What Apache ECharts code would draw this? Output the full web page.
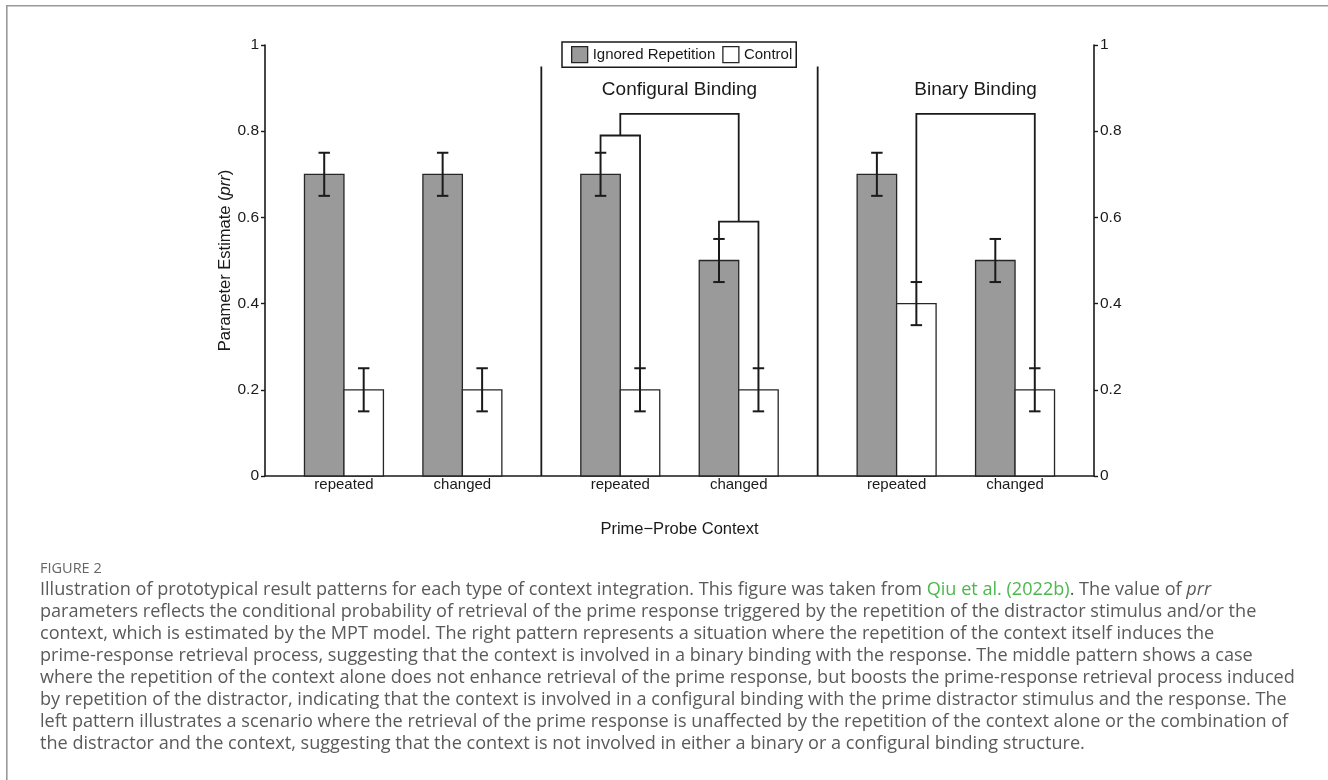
<!DOCTYPE html>
<html><head><meta charset="utf-8">
<script src="https://cdn.jsdelivr.net/npm/echarts@6/dist/echarts.min.js"></script>
<style>html,body{margin:0;padding:0;background:#fff}#c{width:1328px;height:780px}</style>
</head><body><div id="c"></div><script>
// ---------- data ----------
const panelTitles = ['', 'Configural Binding', 'Binary Binding'];
const contexts = ['repeated', 'changed'];
const seriesNames = ['Ignored Repetition', 'Control'];
const ignoredValues = [0.7, 0.7, 0.7, 0.5, 0.7, 0.5];
const ignoredErrors = [0.05, 0.05, 0.05, 0.05, 0.05, 0.05];
const controlValues = [0.2, 0.2, 0.2, 0.2, 0.4, 0.2];
const controlErrors = [0.05, 0.05, 0.05, 0.05, 0.05, 0.05];
const yTickLabels = ['0', '0.2', '0.4', '0.6', '0.8', '1'];
const xTitle = 'Prime\u2212Probe Context';
// comparison brackets: ends refer to bars (group index, series) or other brackets
const brackets = [
  { id: 'a', left: { g: 2, s: 0 }, right: { g: 2, s: 1 }, h: 0.79 },
  { id: 'b', left: { g: 3, s: 0 }, right: { g: 3, s: 1 }, h: 0.59 },
  { id: 'c', left: { b: 'a' }, right: { b: 'b' }, h: 0.84 },
  { id: 'd', left: { g: 4, s: 1 }, right: { g: 5, s: 1 }, h: 0.84 }
];
const separatorTop = 0.95;
const captionLabel = 'FIGURE 2';
const captionLines = [
  ['Illustration of prototypical result patterns for each type of context integration. This figure was taken from ', '{g|Qiu et al. (2022b)}', '. The value of ', '{i|prr}'],
  ['parameters reflects the conditional probability of retrieval of the prime response triggered by the repetition of the distractor stimulus and/or the'],
  ['context, which is estimated by the MPT model. The right pattern represents a situation where the repetition of the context itself induces the'],
  ['prime-response retrieval process, suggesting that the context is involved in a binary binding with the response. The middle pattern shows a case'],
  ['where the repetition of the context alone does not enhance retrieval of the prime response, but boosts the prime-response retrieval process induced'],
  ['by repetition of the distractor, indicating that the context is involved in a configural binding with the prime distractor stimulus and the response. The'],
  ['left pattern illustrates a scenario where the retrieval of the prime response is unaffected by the repetition of the context alone or the combination of'],
  ['the distractor and the context, suggesting that the context is not involved in either a binary or a configural binding structure.']
];

// ---------- layout helpers ----------
const PANEL = 7, XMAX = 21;
const groupX = k => PANEL * Math.floor(k / 2) + 2 + 3 * (k % 2);
const barX = (k, s) => groupX(k) + (s === 0 ? -0.5 : 0.5);
const vals = [ignoredValues, controlValues], errs = [ignoredErrors, controlErrors];
const bracketGeom = {};
function endPoint(e) {
  if (e.b !== undefined) { const g = bracketGeom[e.b]; return [(g.x1 + g.x2) / 2, g.h]; }
  return [barX(e.g, e.s), vals[e.s][e.g] + errs[e.s][e.g]];
}
brackets.forEach(b => {
  const l = endPoint(b.left), r = endPoint(b.right);
  bracketGeom[b.id] = { x1: l[0], y1: l[1], x2: r[0], y2: r[1], h: b.h };
});
const INK = '#1a1a1a';
const FONT = '"Liberation Sans", Arial, sans-serif';
const CAP_FONT = '"Open Sans", Lato, sans-serif';

function barRenderer(fill) {
  return function (params, api) {
    const x = api.value(0), v = api.value(1), e = api.value(2);
    const tl = api.coord([x - 0.5, v]);
    const br = api.coord([x + 0.5, 0]);
    const top = api.coord([x, v + e]), bot = api.coord([x, v - e]);
    const cw = api.size([0.29, 0])[0] / 2;
    return {
      type: 'group', children: [
        { type: 'rect', shape: { x: tl[0], y: tl[1], width: br[0] - tl[0], height: br[1] - tl[1] },
          style: { fill: fill, stroke: '#262626', lineWidth: 1.3 } },
        { type: 'line', shape: { x1: top[0], y1: top[1], x2: bot[0], y2: bot[1] }, style: { stroke: INK, lineWidth: 2 } },
        { type: 'line', shape: { x1: top[0] - cw, y1: top[1], x2: top[0] + cw, y2: top[1] }, style: { stroke: INK, lineWidth: 2 } },
        { type: 'line', shape: { x1: bot[0] - cw, y1: bot[1], x2: bot[0] + cw, y2: bot[1] }, style: { stroke: INK, lineWidth: 2 } }
      ]
    };
  };
}

function overlayRenderer(params, api) {
  const children = [];
  const ls = { stroke: INK, lineWidth: 1.8, fill: null };
  for (let p = 1; p < panelTitles.length; p++) {
    const a = api.coord([p * PANEL, 0]), b = api.coord([p * PANEL, separatorTop]);
    children.push({ type: 'line', shape: { x1: a[0], y1: a[1], x2: b[0], y2: b[1] }, style: ls });
  }
  Object.values(bracketGeom).forEach(g => {
    const pts = [[g.x1, g.y1], [g.x1, g.h], [g.x2, g.h], [g.x2, g.y2]].map(q => api.coord(q));
    children.push({ type: 'polyline', shape: { points: pts }, style: ls });
  });
  panelTitles.forEach((t, p) => {
    if (!t) return;
    let best = null;
    Object.values(bracketGeom).forEach(g => {
      if (g.x1 > p * PANEL && g.x2 < (p + 1) * PANEL && (!best || g.h > best.h)) best = g;
    });
    const c = api.coord([(best.x1 + best.x2) / 2, 0.895]);
    children.push({ type: 'text', x: c[0], y: c[1], style: { text: t, fill: INK, font: '19px ' + FONT, align: 'center', verticalAlign: 'middle' } });
  });
  return { type: 'group', children };
}

const yAxisBase = {
  type: 'value', min: 0, max: 1, interval: 0.2,
  axisLine: { show: true, onZero: false, lineStyle: { color: INK, width: 1.6 } },
  axisTick: { show: true, length: 4, lineStyle: { color: INK, width: 1.4 } },
  splitLine: { show: false },
  axisLabel: { color: INK, fontSize: 15.5, fontFamily: FONT, margin: 6, formatter: v => yTickLabels[Math.round(v / 0.2)] }
};

const option = {
  animation: false,
  backgroundColor: '#fff',
  grid: { left: 265, right: 234, top: 45, bottom: 304, containLabel: false, outerBoundsMode: 'none' },
  legend: {
    data: [
      { name: seriesNames[0], itemStyle: { color: '#9a9a9a', borderColor: '#262626', borderWidth: 1.3 } },
      { name: seriesNames[1], itemStyle: { color: '#fff', borderColor: '#262626', borderWidth: 1.3 } }
    ],
    left: 562, top: 42, icon: 'rect', itemWidth: 16, itemHeight: 16, itemGap: 7,
    borderColor: INK, borderWidth: 1.5, padding: [4, 4, 4, 9], selectedMode: false,
    textStyle: { fontSize: 15, color: INK, fontFamily: FONT }
  },
  xAxis: {
    type: 'value', min: 0, max: XMAX, interval: 1,
    axisLine: { show: true, onZero: false, lineStyle: { color: INK, width: 1.6 } },
    axisTick: { show: false }, splitLine: { show: false },
    axisLabel: {
      color: INK, fontSize: 15, fontFamily: FONT, margin: 1,
      formatter: v => { for (let k = 0; k < 6; k++) if (groupX(k) === v) return contexts[k % 2]; return ''; }
    },
    name: xTitle, nameLocation: 'middle', nameGap: 45, nameMoveOverlap: false,
    nameTextStyle: { color: INK, fontSize: 16.5, fontFamily: FONT }
  },
  yAxis: [
    Object.assign({}, yAxisBase, {
      position: 'left',
      name: '{n|Parameter Estimate (}{i|prr}{n|)}', nameLocation: 'middle', nameGap: 31, nameRotate: 90, nameMoveOverlap: false,
      nameTextStyle: { rich: { n: { fontSize: 16.5, color: INK, fontFamily: FONT }, i: { fontSize: 16.5, color: INK, fontFamily: FONT, fontStyle: 'italic' } } }
    }),
    Object.assign({}, yAxisBase, { position: 'right' })
  ],
  series: [
    { name: seriesNames[0], type: 'custom', renderItem: barRenderer('#9a9a9a'), itemStyle: { color: '#9a9a9a' },
      data: ignoredValues.map((v, k) => [barX(k, 0), v, ignoredErrors[k]]), z: 2 },
    { name: seriesNames[1], type: 'custom', renderItem: barRenderer('#ffffff'), itemStyle: { color: '#fff' },
      data: controlValues.map((v, k) => [barX(k, 1), v, controlErrors[k]]), z: 2 },
    { name: 'overlay', type: 'custom', renderItem: overlayRenderer, data: [[0, 0]], silent: true, z: 3 }
  ],
  graphic: [
    { type: 'line', shape: { x1: 6, y1: 5.8, x2: 1328, y2: 5.8 }, style: { stroke: '#999', lineWidth: 1.6 } },
    { type: 'line', shape: { x1: 6.8, y1: 5, x2: 6.8, y2: 780 }, style: { stroke: '#999', lineWidth: 1.6 } },
    { type: 'text', left: 40, top: 561, style: { text: captionLabel, fill: '#666', font: '14.5px ' + CAP_FONT } },
    {
      type: 'text', left: 40, top: 581,
      style: {
        text: captionLines.map(parts => parts.map(s => s.startsWith('{') ? s : '{t|' + s + '}').join('')).join('\n'),
        rich: {
          t: { fill: '#5a5a5a', font: '18.1px ' + CAP_FONT, lineHeight: 22 },
          g: { fill: '#4cb84c', font: '18.1px ' + CAP_FONT, lineHeight: 22 },
          i: { fill: '#5a5a5a', font: 'italic 18.1px ' + CAP_FONT, lineHeight: 22 }
        }
      }
    }
  ]
};
const chart = echarts.init(document.getElementById('c'), null, { renderer: 'canvas' });
chart.setOption(option);
</script></body></html>
